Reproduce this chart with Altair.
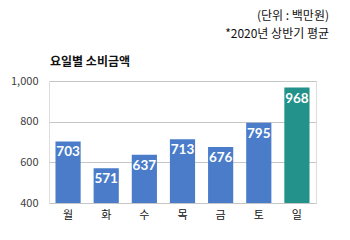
import altair as alt
import pandas as pd

days = ["월", "화", "수", "목", "금", "토", "일"]
values = [703, 571, 637, 713, 676, 795, 968]
highlight = [False, False, False, False, False, False, True]

df = pd.DataFrame({"day": days, "value": values, "hl": highlight})

FONT = "Noto Sans CJK KR"

base = alt.Chart(df)

bars = base.mark_bar(clip=True).encode(
    x=alt.X("day:N", sort=days, title=None,
            scale=alt.Scale(paddingInner=0.34, paddingOuter=0.17),
            axis=alt.Axis(labelAngle=0, labelFontSize=11, labelColor="#111111",
                          labelFont=FONT, domain=False, ticks=False, labelPadding=6)),
    y=alt.Y("value:Q", title=None,
            scale=alt.Scale(domain=[400, 1000], nice=False),
            axis=alt.Axis(values=[400, 500, 600, 700, 800, 900, 1000],
                          labelExpr="datum.value % 200 === 0 ? format(datum.value, ',') : ''",
                          labelFontSize=11, labelColor="#404040", labelFont=FONT,
                          domain=False, ticks=False, labelPadding=11,
                          gridColor={"condition": {"test": "datum.value % 200 === 0", "value": "#c6c6c6"}, "value": "#e6e6e6"},
                          gridWidth=1.2)),
    color=alt.Color("hl:N", scale=alt.Scale(domain=[False, True], range=["#4a7cca", "#22928a"]), legend=None),
)

labels = base.mark_text(baseline="top", dy=4, color="white", fontSize=13.5,
                        fontWeight="bold", font="Lato").encode(
    x=alt.X("day:N", sort=days),
    y=alt.Y("value:Q"),
    text=alt.Text("value:Q"),
)

notes = pd.DataFrame({"t": ["(단위 : 백만원)", "*2020년 상반기 평균"], "yy": [-65, -47]})
note_marks = alt.Chart(notes).mark_text(align="right", baseline="middle", fontSize=12,
                                        font=FONT, color="#111111").encode(
    x=alt.value(280), y=alt.Y("yy:Q", scale=None), text="t:N")

title_df = pd.DataFrame({"t": ["요일별 소비금액"]})
title_mark = alt.Chart(title_df).mark_text(align="left", baseline="middle", fontSize=12,
                                           fontWeight="bold", font=FONT, color="#111111").encode(
    x=alt.value(1), y=alt.value(-19), text="t:N")

chart = alt.layer(bars, labels, note_marks, title_mark).properties(
    width=267, height=122,
    autosize=alt.AutoSizeParams(type="none"),
    padding={"left": 49, "top": 81, "right": 34, "bottom": 37},
).configure_view(stroke=None).configure(background="white")

chart.save("out.html", embed_options={"renderer": "svg", "actions": False})
